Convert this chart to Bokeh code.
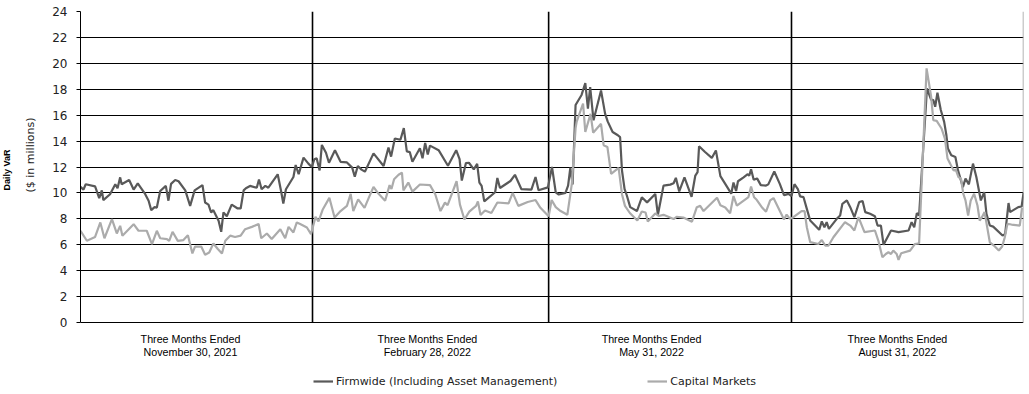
from bokeh.plotting import figure
from bokeh.models import FixedTicker, Legend, LegendItem, Range1d, Title, Label, Grid
from bokeh.embed import file_html
from bokeh.resources import INLINE

# ---------------- data ----------------
y_ticks = [0, 2, 4, 6, 8, 10, 12, 14, 16, 18, 20, 22, 24]
quarter_end_day = [62.0, 125.1, 190.0, 252.0]
quarter_labels = [
    ("Three Months Ended", "November 30, 2021"),
    ("Three Months Ended", "February 28, 2022"),
    ("Three Months Ended", "May 31, 2022"),
    ("Three Months Ended", "August 31, 2022"),
]
series_names = ["Firmwide (Including Asset Management)", "Capital Markets"]

firm_day = [0.0, 0.8, 1.4, 3.9, 5.0, 5.7, 6.1, 7.9, 9.3, 9.9, 10.6, 11.0, 13.0, 14.2, 15.3, 17.3, 18.2, 18.9, 19.8, 20.4,
            21.3, 22.8, 23.5, 24.2, 25.3, 26.2, 28.0, 29.3, 30.5, 32.6, 33.3, 34.2, 34.9, 35.5, 36.9, 37.6, 38.2, 39.1, 40.4, 42.0,
            42.8, 43.6, 44.2, 45.3, 47.1, 47.7, 48.4, 49.4, 50.2, 52.7, 53.6, 54.2, 54.9, 56.9, 57.5, 58.3, 59.6, 60.9, 61.8,
            62.5, 63.1, 63.9, 64.5, 65.6, 66.4, 68.0, 69.5, 71.2, 72.6, 73.3, 74.1, 75.1, 76.0, 78.3, 81.0, 82.3, 83.0, 84.0, 85.5,
            86.4, 87.2, 88.0, 88.7, 90.7, 91.4, 92.1, 92.8, 93.4, 95.7, 98.2, 100.4, 101.3, 101.9, 103.0, 103.8, 105.1, 106.0, 106.6, 107.2,
            107.9, 110.8, 111.4, 112.1, 114.9, 116.1, 117.8, 120.5, 121.6, 122.4, 124.9,
            126.0, 127.0, 127.8, 129.6, 130.3, 130.9, 131.5, 132.3, 133.9, 134.9, 135.6, 136.2, 137.1, 139.1, 140.2, 140.9, 142.2, 143.6, 144.2, 144.7,
            145.4, 146.0, 146.9, 148.7, 150.0, 151.4, 153.6, 154.3, 155.8, 157.6, 158.5, 159.1, 160.0, 161.4, 163.3, 164.3, 164.9, 165.3, 166.9, 168.7,
            169.8, 171.0, 172.5, 173.9, 174.5, 175.2, 175.7, 177.2, 178.3, 178.7, 179.2, 179.9, 180.8, 181.8, 183.2, 183.8, 185.4, 186.9, 188.0, 189.2, 190.0,
            190.8, 191.7, 192.3, 193.2, 194.1, 195.0, 196.3, 197.4, 198.1, 198.8, 199.4, 200.0, 202.1, 203.0, 203.6, 204.8, 205.7, 206.8, 208.1, 209.0,
            209.7, 211.0, 212.3, 213.0, 213.9, 214.6, 216.6, 218.6, 221.3, 222.1, 222.8, 223.5, 224.1, 226.2, 227.3, 227.9, 228.4, 229.0, 229.9, 230.8,
            231.4, 231.8, 232.7, 233.8, 234.5, 235.8, 236.5, 237.4, 238.5, 239.4, 240.6, 241.5, 242.1, 243.0, 243.9, 246.4, 247.1, 248.0, 248.4, 250.6,
            251.5, 252.0]
firm_var = [10.46, 10.26, 10.67, 10.5, 9.6, 10.2, 9.44, 9.9, 10.67, 10.36, 11.2, 10.67, 11.0, 10.26, 10.74, 9.9, 9.4, 8.67, 8.9, 8.87,
            10.15, 10.54, 9.4, 10.7, 11.0, 10.9, 10.2, 9.0, 10.2, 10.6, 9.26, 9.1, 8.5, 8.67, 7.85, 7.0, 8.5, 8.2, 9.1, 8.8,
            8.8, 10.2, 10.36, 10.54, 10.4, 11.03, 10.28, 10.54, 10.4, 11.44, 10.15, 9.18, 10.28, 11.23, 12.15, 11.44, 12.72, 12.26, 12.0,
            12.6, 12.67, 11.74, 13.7, 13.1, 12.33, 13.3, 12.4, 12.35, 11.95, 11.25, 12.08, 11.8, 11.64, 13.05, 12.08, 13.5, 12.8, 14.2, 14.1,
            15.0, 13.2, 13.15, 12.4, 13.45, 12.67, 13.85, 12.97, 13.65, 13.3, 12.1, 13.3, 12.6, 10.95, 12.3, 12.33, 11.82, 12.25, 10.8, 10.54,
            9.35, 10.05, 11.15, 10.38, 10.92, 11.4, 10.3, 10.25, 11.23, 10.2, 10.43,
            12.0, 10.04, 9.88, 10.0, 10.56, 11.95, 10.65, 16.78, 17.56, 18.47, 16.5, 18.16, 15.6, 17.9, 16.1, 15.5, 14.7, 14.45, 14.3, 11.73,
            10.3, 9.8, 8.9, 8.6, 9.66, 9.27, 9.92, 8.31, 10.56, 10.64, 10.75, 11.16, 10.12, 11.2, 9.7, 11.34, 11.6, 13.6, 13.16, 12.7,
            13.28, 11.3, 10.6, 9.94, 10.8, 10.15, 10.9, 11.2, 11.45, 11.32, 11.82, 11.02, 11.12, 10.6, 10.57, 10.66, 11.65, 10.68, 9.83, 9.93, 9.76,
            10.67, 10.3, 9.73, 9.68, 8.77, 7.87, 7.48, 7.15, 7.8, 7.35, 7.74, 7.23, 8.0, 8.26, 9.16, 9.42, 8.9, 8.13, 9.3, 9.37,
            8.52, 8.39, 8.2, 7.48, 7.48, 6.0, 7.1, 6.97, 7.1, 7.74, 7.35, 8.44, 8.26, 18.06, 17.2, 17.16, 16.65, 17.73, 16.4, 15.48,
            14.45, 13.42, 12.9, 12.77, 11.74, 10.45, 11.1, 10.66, 12.26, 11.23, 9.42, 10.06, 8.39, 7.48, 7.4, 6.71, 6.84, 9.22, 8.52, 8.9,
            8.95, 9.99]

cap_day = [0.0, 1.7, 3.9, 5.3, 6.4, 8.4, 9.7, 10.6, 11.2, 14.2, 15.5, 17.7, 19.1, 20.4, 21.3, 23.1, 23.7, 24.6, 26.0, 27.5,
           28.7, 29.9, 30.6, 32.3, 33.3, 34.4, 35.5, 36.7, 37.8, 38.7, 40.0, 41.3, 42.8, 44.0, 45.8, 47.6, 48.3, 49.8, 51.1, 53.4,
           54.7, 55.6, 56.9, 57.8, 58.7, 60.5, 61.6,
           62.8, 63.6, 64.7, 66.5, 67.9, 69.5, 71.2, 72.2, 72.9, 74.2, 75.9, 77.0, 78.3, 79.6, 81.4, 82.6, 83.1, 83.8, 85.0, 85.9,
           86.3, 87.6, 88.7, 90.7, 93.4, 94.8, 96.2, 97.4, 98.1, 100.5, 101.4, 102.6, 103.9, 105.7, 106.2, 106.9, 108.1, 109.8, 111.4, 114.4,
           115.5, 117.0, 119.5, 121.6, 122.9, 125.1,
           125.9, 127.0, 128.3, 130.1, 131.3, 132.3, 132.6, 134.3, 134.9, 136.3, 137.0, 139.1, 139.8, 140.8, 141.8, 143.8, 144.7, 145.5, 146.8, 148.8,
           150.0, 151.0, 151.6, 153.6, 154.5, 155.8, 158.5, 159.3, 161.1, 163.4, 164.7, 165.6, 166.5, 170.1, 171.0, 172.3, 173.6, 174.5, 175.4, 178.5,
           179.2, 180.0, 180.7, 182.2, 183.2, 184.3, 185.2, 188.0, 188.7, 189.6,
           190.5, 192.7, 193.5, 194.1, 195.0, 197.2, 198.1, 199.0, 199.9, 201.2, 204.3, 205.7, 206.8, 207.9, 209.5, 212.3, 213.2, 214.3, 215.2, 215.9,
           216.6, 217.2, 218.1, 218.6, 219.3, 221.7, 223.0, 224.1, 226.1, 227.3, 227.9, 228.8, 230.1, 231.0, 231.7, 232.4, 233.3, 233.9, 234.6, 235.3,
           235.9, 236.5, 237.2, 237.9, 238.8, 239.7, 240.3, 240.9, 241.6, 243.0, 244.1, 245.4, 246.3, 247.0, 247.7, 248.8, 251.0, 251.6]
cap_var = [7.08, 6.31, 6.6, 7.72, 6.5, 7.97, 6.87, 7.46, 6.7, 7.59, 7.08, 7.08, 6.05, 7.08, 6.5, 6.44, 6.3, 7.0, 6.3, 6.36,
           6.74, 5.33, 5.85, 5.85, 5.23, 5.4, 6.1, 5.67, 5.33, 6.31, 6.7, 6.6, 6.7, 7.2, 7.38, 7.6, 6.5, 6.87, 6.44, 7.2,
           6.5, 7.38, 6.95, 7.72, 7.6, 7.33, 6.82,
           8.15, 7.8, 8.7, 9.62, 8.1, 8.6, 9.0, 9.92, 8.6, 9.5, 8.85, 9.6, 10.46, 9.95, 9.4, 10.6, 10.3, 11.05, 11.4, 11.56,
           10.2, 10.8, 10.1, 10.65, 10.6, 9.9, 8.6, 9.25, 9.05, 10.9, 9.1, 7.95, 8.55, 9.0, 9.35, 8.3, 8.65, 8.45, 9.26, 9.2,
           10.0, 9.0, 9.3, 9.45, 8.85, 8.2,
           9.45, 8.9, 8.6, 8.31, 10.7, 15.0, 15.5, 16.9, 14.7, 16.1, 14.65, 15.33, 13.68, 13.55, 11.47, 11.94, 9.9, 9.0, 8.45, 7.87,
           8.57, 8.49, 7.8, 8.42, 8.22, 8.31, 7.98, 8.16, 8.1, 7.78, 8.9, 9.0, 8.6, 9.63, 9.05, 8.88, 8.43, 9.76, 9.02, 9.68,
           10.5, 9.66, 9.47, 8.85, 8.55, 9.42, 9.6, 7.95, 8.33, 8.0,
           8.13, 8.6, 8.6, 7.35, 6.2, 6.06, 6.37, 5.94, 5.94, 6.58, 7.74, 7.48, 7.1, 8.13, 6.97, 7.1, 6.32, 5.03, 5.29, 5.42,
           5.29, 5.55, 5.29, 4.83, 5.34, 5.55, 6.06, 6.11, 19.61, 17.47, 15.61, 15.56, 14.97, 14.19, 12.65, 12.26, 11.74, 11.8, 11.23, 11.1,
           9.94, 9.42, 8.26, 9.42, 9.94, 9.03, 7.87, 8.13, 8.52, 6.19, 5.94, 5.55, 5.86, 6.58, 7.61, 7.56, 7.48, 8.85]

# ---------------- layout / style constants ----------------
FIRM_COLOR = "#595959"
CAP_COLOR = "#ababab"
W, H = 1029, 394
TOP, PLOT_BOTTOM, LEFT, RIGHT = 11, 322, 80, 1023       # pixel edges of the value area
px_per_unit = (PLOT_BOTTOM - TOP) / (y_ticks[-1] - y_ticks[0])
y_start = y_ticks[0] - (H - PLOT_BOTTOM) / px_per_unit  # frame runs down to the canvas bottom
caption_centre_day = [29.4, 92.7, 152.6, 218.3]
caption_line_px = [16, 29]                              # below the zero line

p = figure(width=W, height=H, output_backend="svg", toolbar_location=None,
           x_range=Range1d(0, quarter_end_day[-1]), y_range=Range1d(y_start, y_ticks[-1]),
           min_border_left=LEFT, min_border_right=W - RIGHT, min_border_top=TOP, min_border_bottom=0)
p.background_fill_color = "white"
p.border_fill_color = "white"
p.outline_line_color = None

p.xaxis.visible = False
p.xgrid.visible = False

p.yaxis.bounds = (y_ticks[0], y_ticks[-1])
p.yaxis.ticker = FixedTicker(ticks=y_ticks)
p.yaxis.major_tick_out = 4
p.yaxis.major_tick_in = 0
p.yaxis.minor_tick_line_color = None
p.yaxis.major_tick_line_color = "black"
p.yaxis.axis_line_color = "black"
p.yaxis.major_label_standoff = 9
p.yaxis.major_label_text_font = "DejaVu Sans"
p.yaxis.major_label_text_font_size = "12px"
p.yaxis.major_label_text_color = "#222222"

p.ygrid.ticker = FixedTicker(ticks=y_ticks[:-1])
p.ygrid.grid_line_color = "black"
p.ygrid.grid_line_width = 1
# light top border of the value area
p.add_layout(Grid(dimension=1, ticker=FixedTicker(ticks=[y_ticks[-1]]), grid_line_color="#9a9a9a"))

# quarter separators and the light right border, limited to the value area
n_sep = len(quarter_end_day) - 1
p.segment(x0=quarter_end_day[:-1], y0=[y_ticks[0]] * n_sep, x1=quarter_end_day[:-1], y1=[y_ticks[-1]] * n_sep,
          line_color="black", line_width=1.6)
p.segment(x0=[quarter_end_day[-1]], y0=[y_ticks[0]], x1=[quarter_end_day[-1]], y1=[y_ticks[-1]],
          line_color="#9a9a9a", line_width=1.5)

r_firm = p.line(firm_day, firm_var, line_color=FIRM_COLOR, line_width=2.2)
r_cap = p.line(cap_day, cap_var, line_color=CAP_COLOR, line_width=2.2)

# period captions
for cx, (l1, l2) in zip(caption_centre_day, quarter_labels):
    for line_text, dy in zip((l1, l2), caption_line_px):
        p.add_layout(Label(x=cx, y=y_ticks[0] - dy / px_per_unit, text=line_text, text_align="center",
                           text_baseline="middle", text_font="Liberation Sans", text_font_size="10.7px",
                           text_color="black"))

# y-axis title as two left-side titles (different weights); offsets measured up from the frame bottom
p.add_layout(Title(text="($ in millions)", align="left", offset=H - 192, standoff=26,
                   text_font="DejaVu Sans", text_font_size="11px", text_font_style="normal",
                   text_color="#222222"), "left")
p.add_layout(Title(text="Daily VaR", align="left", offset=H - 190, standoff=-6,
                   text_font="Liberation Sans", text_font_size="9px", text_font_style="bold",
                   text_color="black"), "left")

legend = Legend(items=[LegendItem(label=series_names[0], renderers=[r_firm]),
                       LegendItem(label=series_names[1], renderers=[r_cap])],
                location=(233, 6), orientation="horizontal", padding=0, margin=0, spacing=90,
                glyph_width=20, glyph_height=14, label_height=14, label_standoff=3,
                label_text_font="DejaVu Sans", label_text_font_size="11px",
                label_text_color="#222222", border_line_color=None, background_fill_alpha=0)
p.add_layout(legend)

open("out.html", "w").write(file_html(p, INLINE))
